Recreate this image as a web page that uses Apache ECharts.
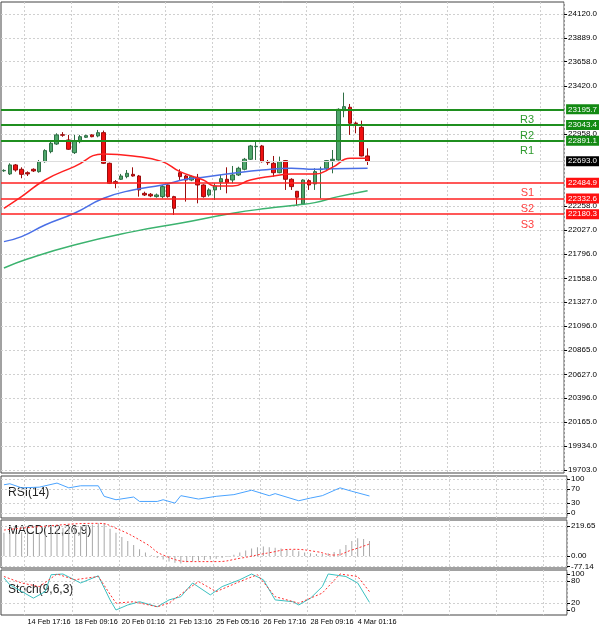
<!DOCTYPE html>
<html>
<head>
<meta charset="utf-8">
<script src="https://cdn.jsdelivr.net/npm/echarts@6/dist/echarts.min.js"></script>
<style>html,body{margin:0;padding:0;background:#fff}#main{width:600px;height:628px}</style>
</head>
<body>
<div id="main"></div>
<script>
// candles: [open, close, low, high]
var candles = [
  [22600,22604,22590,22615],[22570,22657,22560,22673],[22657,22608,22592,22666],[22615,22566,22528,22634],
  [22582,22570,22550,22595],[22615,22599,22589,22624],[22592,22689,22582,22705],[22689,22796,22679,22809],
  [22786,22867,22770,22883],[22860,22948,22851,22964],[22950,22945,22930,22975],[22899,22809,22802,22948],
  [22776,22889,22763,22948],[22883,22931,22867,22948],[22925,22941,22918,22950],[22948,22931,22925,22955],
  [22938,22970,22925,22996],[22970,22673,22666,22990],[22673,22479,22472,22680],[22495,22479,22431,22511],
  [22518,22550,22511,22570],[22544,22576,22528,22608],[22566,22550,22544,22634],[22550,22415,22350,22560],
  [22382,22366,22356,22398],[22373,22357,22345,22385],[22350,22366,22340,22380],[22350,22447,22334,22463],
  [22463,22350,22340,22470],[22350,22237,22172,22358],[22582,22544,22511,22615],[22550,22511,22302,22560],
  [22511,22544,22500,22555],[22537,22463,22285,22570],[22463,22350,22340,22470],[22366,22415,22350,22431],
  [22415,22453,22318,22479],[22492,22524,22415,22560],[22518,22486,22382,22634],[22511,22560,22479,22647],
  [22560,22625,22550,22640],[22615,22712,22605,22725],[22712,22841,22705,22851],[22834,22838,22705,22883],
  [22841,22689,22680,22851],[22682,22679,22657,22705],[22673,22582,22544,22744],[22582,22689,22576,22738],
  [22699,22518,22415,22705],[22518,22447,22415,22528],[22402,22344,22260,22405],[22279,22511,22269,22518],
  [22505,22463,22415,22518],[22473,22592,22415,22625],[22612,22615,22334,22640],[22625,22699,22608,22705],
  [22699,22712,22576,22802],[22705,23196,22700,23206],[23183,23222,23119,23358],[23216,23061,22948,23248],
  [23063,23058,22964,23077],[23022,22744,22740,23086],[22744,22693,22657,22818]
];
var slotCount = 96;
var maRed = [[0,22237],[3,22350],[7,22511],[12,22641],[17,22763],[22,22744],[27,22689],[30,22592],[34,22511],[36,22453],[39,22453],[42,22511],[46,22550],[49,22570],[53,22570],[56,22634],[59,22721],[62,22721]];
var maBlue = [[0,21914],[3,21962],[7,22075],[12,22189],[17,22334],[22,22415],[27,22463],[31,22518],[34,22537],[39,22576],[44,22608],[49,22625],[53,22615],[56,22621],[62,22625]];
var maGreen = [[0,21659],[4,21746],[12,21882],[22,22011],[30,22092],[39,22189],[45,22237],[50,22269],[53,22292],[57,22350],[62,22408]];
var levelNames = ['R3','R2','R1','S1','S2','S3'];
var levelValues = [23195.7,23043.4,22891.1,22484.9,22332.6,22180.3];
var lastPrice = 22693.0;
var priceTicks = [24120,23889,23658,23420,22958,22258,22027,21796,21558,21327,21096,20865,20627,20396,20165,19934,19703];
var rsi = [[0,83],[1,86],[3,74],[6,76],[9,88],[11,74],[13,80],[16,80],[17,49],[19,39],[22,47],[23,34],[26,34],[27,39],[29,29],[30,51],[33,41],[36,49],[39,54],[42,67],[45,51],[46,57],[50,36],[52,44],[54,51],[57,74],[59,64],[62,50]];
var macdHist = [170,175,180,175,170,165,170,180,190,200,205,210,215,220,225,230,240,240,200,170,140,110,80,50,25,5,-15,-25,-40,-50,-55,-45,-40,-35,-30,-25,-20,-15,-5,10,25,40,55,65,70,65,60,55,50,45,35,25,20,15,15,20,30,50,80,110,130,125,110];
var macdSignal = [[0,190],[6,215],[16,239],[19,203],[24,93],[27,7],[32,-41],[36,-41],[40,-17],[45,24],[49,49],[53,32],[56,7],[59,44],[62,88]];
var stochMain = [[0,89],[1,70],[5,33],[7,51],[8,98],[10,100],[13,75],[16,95],[18,28],[19,0],[21,14],[23,23],[26,9],[28,28],[30,37],[32,75],[35,42],[37,65],[40,84],[42,100],[44,84],[46,28],[49,23],[50,14],[52,33],[54,65],[55,100],[58,93],[60,75],[62,21]];
var stochSignal = [[0,93],[3,75],[6,65],[9,100],[12,84],[16,93],[19,19],[22,23],[26,9],[28,19],[31,56],[33,79],[36,51],[40,79],[43,98],[46,37],[50,19],[54,47],[57,100],[60,93],[62,51]];
var timeLabels = {4:'14 Feb 17:16',12:'18 Feb 09:16',20:'20 Feb 01:16',28:'21 Feb 13:16',36:'25 Feb 05:16',44:'26 Feb 17:16',52:'28 Feb 09:16',60:'4 Mar 01:16'};

var cats = [];
for (var i = 0; i < slotCount; i++) cats.push(String(i));

var font = 'Liberation Sans';
var gridLine = {show: true, lineStyle: {color: '#d0d0d0', type: [2, 2], width: 1}};
var vInterval = function (idx) { return idx >= 4 && (idx - 4) % 8 === 0; };

function xAx(gi, showLabels) {
  return {
    type: 'category', gridIndex: gi, data: cats, boundaryGap: true,
    axisLine: {show: false}, axisTick: {show: false},
    splitLine: {show: true, interval: vInterval, lineStyle: {color: '#d0d0d0', type: [2, 2]}},
    axisLabel: showLabels ? {
      show: true, interval: vInterval, align: 'left', fontSize: 7.3, fontFamily: font, color: '#000', margin: 3,
      formatter: function (v, idx) { return timeLabels[idx] || ''; }
    } : {show: false}
  };
}
function yAx(gi, min, max, ticks, fmt, noSplit) {
  return {
    type: 'value', gridIndex: gi, position: 'right', min: min, max: max, scale: true,
    axisLine: {show: false},
    axisTick: {show: true, length: 3, customValues: ticks, lineStyle: {color: '#000'}},
    axisLabel: {show: true, customValues: ticks, hideOverlap: false,
      fontSize: 8, fontFamily: font, color: '#000', margin: 4, formatter: fmt},
    splitLine: noSplit ? {show: false} : gridLine
  };
}

var levelColors = ['#138a13','#138a13','#138a13','#ff1010','#ff1010','#ff1010'];
var boxLines = levelValues.map(function (v, k) {
  return {yAxis: v, lineStyle: {color: k < 3 ? '#1f8f1f' : '#ff2020', width: k < 3 ? 2 : 1.5, type: 'solid'},
    label: {backgroundColor: levelColors[k]}};
});
boxLines.push({yAxis: lastPrice, lineStyle: {color: '#dddddd', width: 1, type: 'solid'}, label: {backgroundColor: '#000'}});
var nameLines = levelValues.map(function (v, k) {
  return {yAxis: v, name: levelNames[k], label: {color: k < 3 ? '#2e9a2e' : '#ff4040'}};
});

var option = {
  animation: false,
  grid: [
    {left: 1, right: 33, top: 2, height: 471, show: true, borderColor: '#444', borderWidth: 1},
    {left: 1, right: 33, top: 476, height: 42, show: true, borderColor: '#444', borderWidth: 1},
    {left: 1, right: 33, top: 520, height: 48, show: true, borderColor: '#444', borderWidth: 1},
    {left: 1, right: 33, top: 570, height: 45, show: true, borderColor: '#444', borderWidth: 1}
  ],
  xAxis: [xAx(0, false), xAx(1, false), xAx(2, false), xAx(3, true)],
  yAxis: [
    yAx(0, 19672, 24236, priceTicks, function (v) { return v.toFixed(1); }),
    yAx(1, -14.7, 108.8, [0, 30, 70, 100]),
    yAx(2, -87.8, 263.6, [-77.14, 0, 219.65], function (v) { return v.toFixed(2); }),
    yAx(3, -13.9, 111.1, [20, 80]),
    yAx(3, -13.9, 111.1, [0, 100], null, true)
  ],
  graphic: [
    {type: 'text', left: 8, top: 487, style: {text: 'RSI(14)', font: '12px ' + font, fill: '#222'}},
    {type: 'text', left: 8, top: 525, style: {text: 'MACD(12,26,9)', font: '12px ' + font, fill: '#222'}},
    {type: 'text', left: 8, top: 584, style: {text: 'Stoch(9,6,3)', font: '12px ' + font, fill: '#222'}}
  ],
  series: [
    {type: 'candlestick', xAxisIndex: 0, yAxisIndex: 0, data: candles, barWidth: 4,
      itemStyle: {color: '#4fa86c', color0: '#f01010', borderColor: '#2f6f45', borderColor0: '#9a0d0d', borderWidth: 1},
      markLine: {silent: true, symbol: 'none', data: boxLines,
        label: {position: 'end', color: '#fff', fontSize: 8, fontFamily: font, padding: [1, 2, 1, 2], distance: 2,
          formatter: function (p) { return p.value.toFixed(1); }}}
    },
    {type: 'line', xAxisIndex: 0, yAxisIndex: 0, data: maGreen, smooth: true, symbol: 'none', lineStyle: {color: '#3cb36f', width: 1.5}},
    {type: 'line', xAxisIndex: 0, yAxisIndex: 0, data: maBlue, smooth: true, symbol: 'none', lineStyle: {color: '#4a6fe6', width: 1.5},
      markLine: {silent: true, symbol: 'none', data: nameLines,
        lineStyle: {color: 'rgba(0,0,0,0)', width: 0},
        label: {show: true, position: 'insideEndBottom', distance: [30, 5], fontSize: 11, fontFamily: font, formatter: '{b}'}}},
    {type: 'line', xAxisIndex: 0, yAxisIndex: 0, data: maRed, smooth: true, symbol: 'none', lineStyle: {color: '#ff2020', width: 1.5}},
    {type: 'line', xAxisIndex: 1, yAxisIndex: 1, data: rsi, symbol: 'none', lineStyle: {color: '#4aa3ff', width: 1}},
    {type: 'bar', xAxisIndex: 2, yAxisIndex: 2, data: macdHist, barWidth: 1, itemStyle: {color: '#a8a8a8'}},
    {type: 'line', xAxisIndex: 2, yAxisIndex: 2, data: macdSignal, smooth: true, symbol: 'none', lineStyle: {color: '#ff3030', width: 1, type: [2, 2]}},
    {type: 'line', xAxisIndex: 3, yAxisIndex: 3, data: stochMain, symbol: 'none', lineStyle: {color: '#3cc0c0', width: 1}},
    {type: 'line', xAxisIndex: 3, yAxisIndex: 3, data: stochSignal, symbol: 'none', lineStyle: {color: '#ff3030', width: 1, type: [2, 2]}}
  ]
};

var myChart = echarts.init(document.getElementById('main'));
myChart.setOption(option);
</script>
</body>
</html>
